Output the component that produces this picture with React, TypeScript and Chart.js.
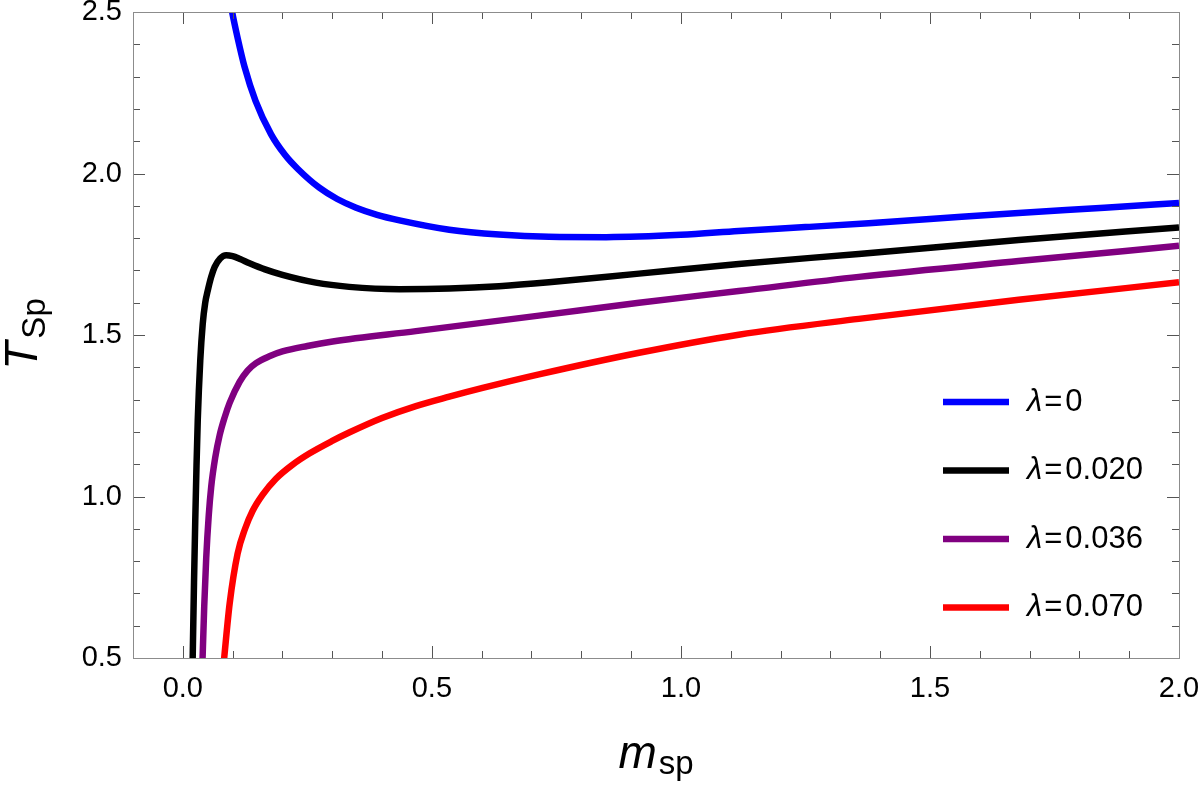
import React, { useEffect, useRef } from "react";
import { Chart, registerables } from "chart.js";

Chart.register(...registerables);

const FF = "'Liberation Sans', Arial, Helvetica, sans-serif";

const seriesLabels = ["0", "0.020", "0.036", "0.070"];
const seriesColors = ["#0000ff", "#000000", "#800080", "#ff0000"];

// lambda = 0 (blue)
const blueX = [0.09, 0.099, 0.11, 0.124, 0.146, 0.177, 0.205, 0.231, 0.274, 0.31, 0.348, 0.39, 0.435, 0.535, 0.635, 0.735, 0.85, 1.0, 1.116, 1.25, 1.377, 1.5, 1.678, 1.85, 2.0];
const blueY = [2.58, 2.5, 2.42, 2.33, 2.225, 2.122, 2.058, 2.014, 1.956, 1.921, 1.894, 1.872, 1.855, 1.826, 1.811, 1.804, 1.803, 1.81, 1.822, 1.834, 1.846, 1.859, 1.878, 1.894, 1.909];

// lambda = 0.020 (black)
const blackX = [0.0186, 0.02, 0.0225, 0.025, 0.0275, 0.03, 0.035, 0.04, 0.045, 0.05, 0.057, 0.064, 0.075, 0.087, 0.1, 0.115, 0.134, 0.165, 0.2, 0.267, 0.334, 0.435, 0.535, 0.635, 0.735, 0.916, 1.116, 1.357, 1.678, 2.0];
const blackY = [0.4, 0.515, 0.735, 0.927, 1.095, 1.236, 1.42, 1.535, 1.6, 1.637, 1.68, 1.711, 1.737, 1.747, 1.744, 1.735, 1.722, 1.703, 1.686, 1.662, 1.649, 1.642, 1.644, 1.651, 1.663, 1.69, 1.72, 1.751, 1.794, 1.833];

// lambda = 0.036 (purple)
const purpleX = [0.0374, 0.04, 0.043, 0.047, 0.052, 0.057, 0.065, 0.074, 0.084, 0.094, 0.114, 0.13, 0.147, 0.175, 0.2, 0.25, 0.301, 0.468, 0.715, 0.916, 1.116, 1.357, 1.678, 2.0];
const purpleY = [0.4, 0.515, 0.66, 0.81, 0.94, 1.03, 1.12, 1.19, 1.245, 1.29, 1.355, 1.39, 1.413, 1.435, 1.449, 1.466, 1.48, 1.512, 1.56, 1.6, 1.636, 1.68, 1.729, 1.776];

// lambda = 0.070 (red)
const redX = [0.077, 0.084, 0.094, 0.11, 0.125, 0.14, 0.16, 0.187, 0.22, 0.254, 0.3, 0.334, 0.4, 0.468, 0.535, 0.602, 0.715, 0.916, 1.116, 1.357, 1.678, 2.0];
const redY = [0.4, 0.515, 0.668, 0.823, 0.9, 0.955, 1.005, 1.055, 1.098, 1.133, 1.172, 1.198, 1.243, 1.28, 1.309, 1.336, 1.378, 1.445, 1.501, 1.55, 1.609, 1.663];

const xTickValues = [0, 0.5, 1.0, 1.5, 2.0];
const yTickValues = [0.5, 1.0, 1.5, 2.0, 2.5];
const X_MIN = -0.1;
const X_MAX = 2.0;
const Y_MIN = 0.5;
const Y_MAX = 2.5;
const MINOR_STEP = 0.1;
const MAJOR_STEP = 0.5;

const seriesX = [blueX, blackX, purpleX, redX];
const seriesY = [blueY, blackY, purpleY, redY];

function stepValues(min: number, max: number) {
  const out: { v: number; major: boolean }[] = [];
  for (let i = 0; ; i++) {
    const v = Math.round((min + i * MINOR_STEP) * 1000) / 1000;
    if (v > max + 1e-9) break;
    const r = v / MAJOR_STEP;
    out.push({ v, major: Math.abs(r - Math.round(r)) < 1e-6 });
  }
  return out;
}

const framePlugin = {
  id: "frameTicks",
  afterDatasetsDraw(chart: any) {
    const { ctx, chartArea: ca, scales } = chart;
    const xs = scales.x;
    const ys = scales.y;
    ctx.save();
    ctx.lineWidth = 1;
    ctx.strokeStyle = "#555555";
    const MAJ = 12;
    const MIN = 7;
    ctx.beginPath();
    for (const t of stepValues(X_MIN, X_MAX)) {
      const px = Math.round(xs.getPixelForValue(t.v)) + 0.5;
      const len = t.major ? MAJ : MIN;
      ctx.moveTo(px, ca.bottom);
      ctx.lineTo(px, ca.bottom - len);
      ctx.moveTo(px, ca.top);
      ctx.lineTo(px, ca.top + len);
    }
    for (const t of stepValues(Y_MIN, Y_MAX)) {
      const py = Math.round(ys.getPixelForValue(t.v)) + 0.5;
      const len = t.major ? MAJ : MIN;
      ctx.moveTo(ca.left, py);
      ctx.lineTo(ca.left + len, py);
      ctx.moveTo(ca.right, py);
      ctx.lineTo(ca.right - len, py);
    }
    ctx.stroke();
    ctx.strokeStyle = "#8c8c8c";
    ctx.strokeRect(Math.round(ca.left) + 0.5, Math.round(ca.top) + 0.5, Math.round(ca.right - ca.left), Math.round(ca.bottom - ca.top));
    ctx.restore();
  },
};

const titlesPlugin = {
  id: "titlesLegend",
  afterDraw(chart: any) {
    const { ctx, chartArea: ca } = chart;
    ctx.save();
    ctx.fillStyle = "#000";
    ctx.textAlign = "left";
    ctx.textBaseline = "alphabetic";
    const mainFont = `italic 46px ${FF}`;
    const subFont = `33px ${FF}`;

    // x title
    ctx.font = mainFont;
    const wm = ctx.measureText("m").width;
    ctx.font = subFont;
    const wsp = ctx.measureText("sp").width;
    const cx = (ca.left + ca.right) / 2;
    const x0 = cx - (wm + 2 + wsp) / 2;
    ctx.font = mainFont;
    ctx.fillText("m", x0, ca.bottom + 110);
    ctx.font = subFont;
    ctx.fillText("sp", x0 + wm + 2, ca.bottom + 116);

    // y title
    ctx.font = mainFont;
    const wt = ctx.measureText("T").width;
    ctx.font = subFont;
    const wS = ctx.measureText("Sp").width;
    const cy = (ca.top + ca.bottom) / 2 - 1;
    ctx.save();
    ctx.translate(37, cy);
    ctx.rotate(-Math.PI / 2);
    const y0 = -(wt + 3 + wS) / 2;
    ctx.font = mainFont;
    ctx.fillText("T", y0, 0);
    ctx.font = subFont;
    ctx.fillText("Sp", y0 + wt + 3, 8);
    ctx.restore();

    // legend
    const legFont = `31px ${FF}`;
    const legFontIt = `italic 31px ${FF}`;
    const top = ca.top + 390;
    const gap = 68.5;
    chart.data.datasets.forEach((ds: any, i: number) => {
      const y = top + i * gap;
      ctx.strokeStyle = ds.borderColor;
      ctx.lineWidth = 6.5;
      ctx.beginPath();
      ctx.moveTo(ca.right - 236, y);
      ctx.lineTo(ca.right - 170, y);
      ctx.stroke();
      ctx.textBaseline = "middle";
      ctx.font = legFontIt;
      let tx = ca.right - 152;
      ctx.fillText("λ", tx, y);
      tx += ctx.measureText("λ").width + 2;
      ctx.font = legFont;
      ctx.fillText("=", tx, y);
      tx += ctx.measureText("=").width + 3;
      ctx.fillText(seriesLabels[i], tx, y);
    });
    ctx.restore();
  },
};

export default function App() {
  const ref = useRef<HTMLCanvasElement | null>(null);
  useEffect(() => {
    if (!ref.current) return;
    const datasets = seriesLabels.map((lab, i) => ({
      label: "λ=" + lab,
      data: seriesX[i].map((x, j) => ({ x, y: seriesY[i][j] })),
      borderColor: seriesColors[i],
      backgroundColor: seriesColors[i],
      borderWidth: 6.5,
      pointRadius: 0,
      pointHoverRadius: 0,
      cubicInterpolationMode: "monotone" as const,
      fill: false,
      clip: 0,
    }));
    const chart = new Chart(ref.current, {
      type: "line",
      data: { datasets },
      options: {
        responsive: false,
        animation: false,
        events: [],
        layout: { padding: { top: 12, right: 20, left: 0, bottom: 0 } },
        plugins: { legend: { display: false }, tooltip: { enabled: false }, title: { display: false } },
        scales: {
          x: {
            type: "linear",
            min: X_MIN,
            max: X_MAX,
            grid: { display: false, drawTicks: false },
            border: { display: false },
            afterBuildTicks: (s: any) => {
              s.ticks = xTickValues.map((v) => ({ value: v }));
            },
            afterFit: (s: any) => {
              s.height = 127;
              s.paddingLeft = 0;
              s.paddingRight = 0;
            },
            ticks: {
              autoSkip: false,
              maxRotation: 0,
              padding: 14,
              color: "#000",
              font: { family: FF, size: 29 },
              callback: (v: any) => Number(v).toFixed(1),
            },
          },
          y: {
            type: "linear",
            min: Y_MIN,
            max: Y_MAX,
            grid: { display: false, drawTicks: false },
            border: { display: false },
            afterBuildTicks: (s: any) => {
              s.ticks = yTickValues.map((v) => ({ value: v }));
            },
            afterFit: (s: any) => {
              s.width = 133;
              s.paddingTop = 0;
              s.paddingBottom = 0;
            },
            ticks: {
              autoSkip: false,
              padding: 11,
              color: "#000",
              font: { family: FF, size: 29 },
              callback: (v: any) => Number(v).toFixed(1),
            },
          },
        },
      },
      plugins: [framePlugin, titlesPlugin],
    });
    return () => chart.destroy();
  }, []);
  return (
    <div style={{ position: "fixed", left: 0, top: 0, width: 1199, height: 785, background: "#fff" }}>
      <canvas ref={ref} width={1199} height={785} style={{ display: "block" }} />
    </div>
  );
}
